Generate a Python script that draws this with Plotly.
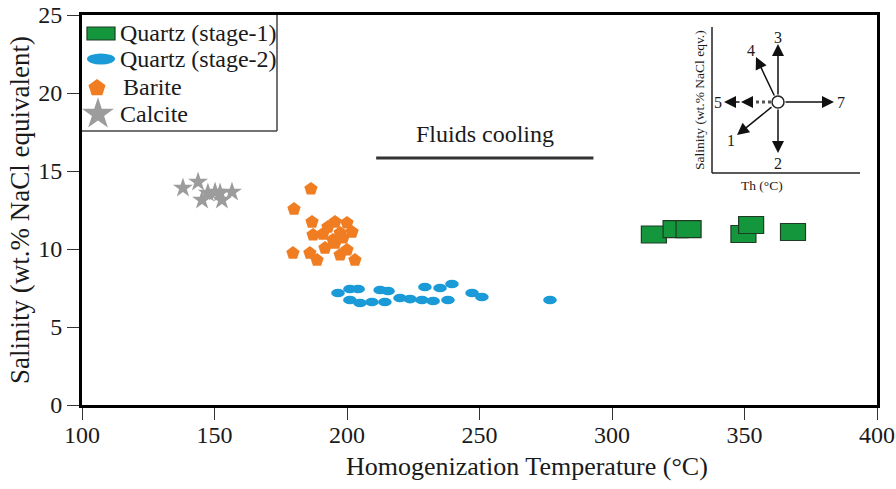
import plotly.graph_objects as go

# ---------------- data ----------------
q1_temp = [315.8, 324.0, 328.9, 349.6, 352.5, 368.3]
q1_sal = [10.93, 11.28, 11.28, 10.96, 11.54, 11.09]

q2_temp = [196.6, 201.1, 204.2, 201.1, 204.9, 209.4, 214.3, 212.5, 215.5, 220.0,
           223.8, 228.3, 229.4, 232.5, 235.1, 238.1, 239.6, 247.2, 250.9, 276.6]
q2_sal = [7.18, 7.44, 7.44, 6.73, 6.54, 6.60, 6.60, 7.37, 7.31, 6.86,
          6.79, 6.73, 7.56, 6.67, 7.50, 6.73, 7.76, 7.18, 6.92, 6.73]

barite_temp = [186.4, 180.0, 186.8, 187.2, 190.9, 195.5, 200.0, 201.9, 197.4, 194.7,
               179.6, 186.0, 188.7, 191.7, 197.4, 200.0, 203.0, 195.5, 198.5, 192.8]
barite_sal = [13.85, 12.56, 11.73, 10.90, 10.96, 11.73, 11.67, 11.09, 11.03, 10.58,
              9.74, 9.74, 9.29, 10.06, 9.62, 9.94, 9.29, 10.38, 10.71, 11.41]

calcite_temp = [138.1, 143.8, 145.3, 147.5, 150.2, 152.8, 156.6, 152.1]
calcite_sal = [13.91, 14.29, 13.14, 13.59, 13.65, 13.14, 13.65, 13.59]

legend_names = ["Quartz (stage-1)", "Quartz (stage-2)", "Barite", "Calcite"]
x_ticks = [100, 150, 200, 250, 300, 350, 400]
y_ticks = [0, 5, 10, 15, 20, 25]
cooling_x = [211, 293]
cooling_y = 15.83

# ---------------- styles ----------------
FONT = "Liberation Serif"
GREEN = "#14973c"
GREEN_EDGE = "#1f3b24"
BLUE = "#1a9bd8"
ORANGE = "#f07d22"
GRAY = "#9c9c9c"
TXT = "#1a1a1a"

L, R, T, B = 82, 19, 15, 84
W, H = 896, 489
PW, PH = W - L - R, H - T - B


def P(px, py):
    """pixel position in page -> overlay axis coordinates"""
    return px - L, (H - B) - py


fig = go.Figure()

# invisible hover carriers for shape-drawn series
fig.add_trace(go.Scatter(x=q1_temp, y=q1_sal, mode="markers", name=legend_names[0],
                         marker=dict(size=20, opacity=0), showlegend=False))
fig.add_trace(go.Scatter(x=q2_temp, y=q2_sal, mode="markers", name=legend_names[1],
                         marker=dict(size=10, opacity=0), showlegend=False))

fig.add_trace(go.Scatter(x=barite_temp, y=barite_sal, mode="markers", name=legend_names[2],
                         marker=dict(symbol="pentagon", size=14, color=ORANGE, line=dict(width=0)),
                         showlegend=False))
fig.add_trace(go.Scatter(x=calcite_temp, y=calcite_sal, mode="markers", name=legend_names[3],
                         marker=dict(symbol="star", size=15, color=GRAY, line=dict(width=0)),
                         showlegend=False))

shapes = []
# Quartz stage-1 rectangles
for x, y in zip(q1_temp, q1_sal):
    shapes.append(dict(type="rect", xref="x", yref="y", xsizemode="pixel", ysizemode="pixel",
                       xanchor=x, yanchor=y, x0=-12.5, x1=12.5, y0=-8.5, y1=8.5,
                       fillcolor=GREEN, line=dict(color=GREEN_EDGE, width=1.2)))
# Quartz stage-2 ellipses
for x, y in zip(q2_temp, q2_sal):
    shapes.append(dict(type="circle", xref="x", yref="y", xsizemode="pixel", ysizemode="pixel",
                       xanchor=x, yanchor=y, x0=-6.8, x1=6.8, y0=-4.3, y1=4.3,
                       fillcolor=BLUE, line=dict(width=0)))

# Fluids cooling line
shapes.append(dict(type="line", xref="x", yref="y", x0=cooling_x[0], x1=cooling_x[1],
                   y0=cooling_y, y1=cooling_y, line=dict(color="#333333", width=3)))

annotations = [dict(x=sum(cooling_x) / 2, y=17.35, xref="x", yref="y", text="Fluids cooling",
                    showarrow=False, font=dict(family=FONT, size=24, color=TXT))]

# ---------------- legend (manual) ----------------
def ov_line(p1, p2, color="#333333", width=1.5, dash="solid"):
    a, b = P(*p1), P(*p2)
    shapes.append(dict(type="line", xref="x2", yref="y2", x0=a[0], y0=a[1], x1=b[0], y1=b[1],
                       line=dict(color=color, width=width, dash=dash)))

ov_line((277, 14), (277, 131), "#444444", 1.5)
ov_line((82, 131), (277, 131), "#444444", 1.5)

a, b = P(87, 27), P(115, 40)
shapes.append(dict(type="rect", xref="x2", yref="y2", x0=a[0], x1=b[0], y0=a[1], y1=b[1],
                   fillcolor=GREEN, line=dict(color=GREEN_EDGE, width=1.2)))
a, b = P(87, 53.5), P(115, 64.5)
shapes.append(dict(type="circle", xref="x2", yref="y2", x0=a[0], x1=b[0], y0=a[1], y1=b[1],
                   fillcolor=BLUE, line=dict(width=0)))

pent = P(97, 88)
star = P(98, 114)
fig.add_trace(go.Scatter(x=[pent[0]], y=[pent[1]], xaxis="x2", yaxis="y2", mode="markers",
                         marker=dict(symbol="pentagon", size=18, color=ORANGE, line=dict(width=0)),
                         showlegend=False, hoverinfo="skip"))
fig.add_trace(go.Scatter(x=[star[0]], y=[star[1]], xaxis="x2", yaxis="y2", mode="markers",
                         marker=dict(symbol="star", size=24, color=GRAY, line=dict(width=0)),
                         showlegend=False, hoverinfo="skip"))

for name, (px, py) in zip(legend_names, [(118, 33), (118, 59), (121, 87), (118, 114)]):
    x, y = P(px, py)
    annotations.append(dict(x=x, y=y, xref="x2", yref="y2", text=name, showarrow=False,
                            xanchor="left", yanchor="middle",
                            font=dict(family=FONT, size=24, color=TXT)))

# ---------------- inset schematic ----------------
ov_line((712, 27), (712, 173), "#222222", 1.5)
ov_line((712, 173), (860, 173), "#222222", 1.5)

c = P(778, 102)
shapes.append(dict(type="circle", xref="x2", yref="y2", x0=c[0] - 6, x1=c[0] + 6,
                   y0=c[1] - 6, y1=c[1] + 6, fillcolor="white",
                   line=dict(color="#222222", width=1.5)))
ov_line((771, 102), (750, 102), "#555555", 3, "dot")


def arrow(tail, tip):
    t, h = P(*tail), P(*tip)
    annotations.append(dict(x=h[0], y=h[1], ax=t[0], ay=t[1], xref="x2", yref="y2",
                            axref="x2", ayref="y2", text="", showarrow=True, arrowhead=2,
                            arrowsize=1.6, arrowwidth=1.5, arrowcolor="#111111",
                            standoff=0, startstandoff=0))


arrow((778, 96), (778, 44))
arrow((775, 97), (756, 57))
arrow((784, 102), (834, 102))
arrow((773, 106), (737, 135))
arrow((778, 108), (778, 153))
arrow((752, 102), (741, 102))
arrow((741, 102), (724, 102))

for txt, (px, py) in zip(["3", "4", "5", "7", "1", "2"],
                         [(778, 37), (751, 50), (718, 102), (841, 102), (731, 140), (778, 163)]):
    x, y = P(px, py)
    annotations.append(dict(x=x, y=y, xref="x2", yref="y2", text=txt, showarrow=False,
                            font=dict(family=FONT, size=16, color=TXT)))

x, y = P(699, 100)
annotations.append(dict(x=x, y=y, xref="x2", yref="y2", text="Salinity (wt.% NaCl eqv.)",
                        showarrow=False, textangle=-90,
                        font=dict(family=FONT, size=13.5, color=TXT)))
x, y = P(762, 185)
annotations.append(dict(x=x, y=y, xref="x2", yref="y2", text="Th (°C)", showarrow=False,
                        font=dict(family=FONT, size=13.5, color=TXT)))

# axis titles as annotations (exact placement)
annotations.append(dict(x=0.5, y=-0.1578, xref="paper", yref="paper",
                        text="Homogenization Temperature (°C)", showarrow=False,
                        xanchor="center", yanchor="middle", xshift=(527 - (L + PW / 2)),
                        font=dict(family=FONT, size=26, color=TXT)))
annotations.append(dict(x=0, y=0.5, xref="paper", yref="paper",
                        text="Salinity (wt.% NaCl equivalent)", showarrow=False,
                        textangle=-90, xanchor="center", yanchor="middle",
                        xshift=(20 - L), yshift=(H - B - PH / 2) - 210,
                        font=dict(family=FONT, size=27, color=TXT)))

fig.update_layout(
    width=W, height=H,
    margin=dict(l=L, r=R, t=T, b=B, autoexpand=False),
    paper_bgcolor="white", plot_bgcolor="white",
    showlegend=False,
    font=dict(family=FONT, color=TXT),
    xaxis=dict(range=[100, 400], tickvals=x_ticks, ticktext=[str(v) for v in x_ticks],
               automargin=False,
               showgrid=False, zeroline=False, showline=True, mirror=True,
               linecolor="black", linewidth=3, ticks="outside", ticklen=12,
               tickwidth=1.3, tickcolor="#333333", ticklabelstandoff=-6,
               tickfont=dict(family=FONT, size=24, color=TXT)),
    yaxis=dict(range=[0, 25], tickvals=y_ticks, ticktext=[str(v) for v in y_ticks],
               automargin=False,
               showgrid=False, zeroline=False, showline=True, mirror=True,
               linecolor="black", linewidth=3, ticks="outside", ticklen=12,
               tickwidth=1.3, tickcolor="#333333",
               tickfont=dict(family=FONT, size=24, color=TXT)),
    xaxis2=dict(range=[0, PW], overlaying="x", anchor="y2", visible=False, fixedrange=True,
                automargin=False),
    yaxis2=dict(range=[0, PH], overlaying="y", anchor="x2", visible=False, fixedrange=True,
                automargin=False),
    shapes=shapes,
    annotations=annotations,
)

fig.write_html("out.html")
